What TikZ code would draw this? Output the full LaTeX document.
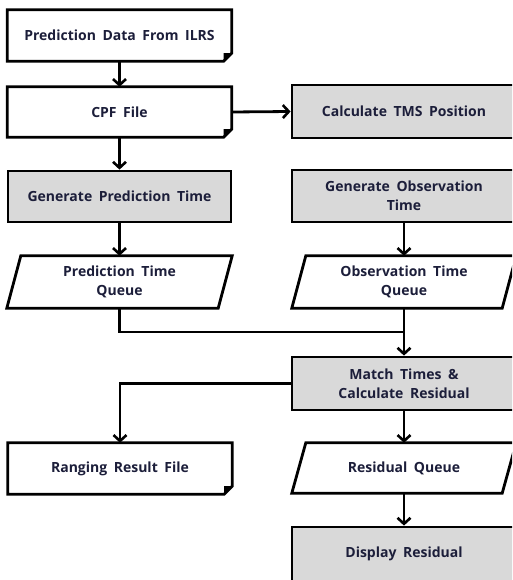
\documentclass[tikz,border=0pt]{standalone}
\usepackage{fontspec}
\setmainfont{Open Sans}[WordSpace=1.8]
\usetikzlibrary{arrows.meta}
\definecolor{boxgray}{RGB}{217,217,217}
\definecolor{txt}{RGB}{28,30,58}
\tikzset{
  base/.style={rectangle, inner sep=0pt, align=center, font=\bfseries\fontsize{14}{19}\selectfont, text=txt},
  procbox/.style={base, draw, fill=boxgray, line width=2.8pt, minimum width=224pt, minimum height=52pt},
  plainspot/.style={base, minimum width=224pt, minimum height=51pt},
  flow/.style={line width=2.8pt, -{Straight Barb[length=6pt,width=13pt,line width=2.6pt]}},
  link/.style={line width=2.8pt},
  shapeline/.style={line width=2.8pt, line join=miter}
}
% document box: rectangle with folded lower right corner
\newcommand\docshape[1]{%
  \draw[shapeline, fill=white] (#1.north west) -- (#1.north east) -- ([yshift=8pt]#1.south east)
     -- ([xshift=-8pt]#1.south east) -- (#1.south west) -- cycle;
  \fill ([yshift=8pt]#1.south east) -- ([xshift=-8pt]#1.south east) -- ([xshift=-8pt,yshift=8pt]#1.south east) -- cycle;}
% data (queue) shape: slanted parallelogram
\newcommand\datashape[1]{%
  \draw[shapeline, fill=white] ([xshift=14pt]#1.north west) -- (#1.north east)
     -- ([xshift=-14pt]#1.south east) -- (#1.south west) -- cycle;}
\begin{document}
\begin{tikzpicture}[x=1pt, y=-1pt]
\useasboundingbox (0,0) rectangle (512,580);
\clip (0,0) rectangle (512,580);

% left column
\node[plainspot] (ilrs) at (119.5,35.5) {};
\docshape{ilrs}
\node[base] at (ilrs) {Prediction Data From ILRS};

\node[plainspot, minimum height=50pt] (cpf) at (119.5,112) {};
\docshape{cpf}
\node[base] at (cpf) {CPF File};

\node[procbox, minimum width=223pt, minimum height=51pt] (gpt) at (119.5,196.5) {Generate Prediction Time};

\node[plainspot, minimum width=225pt, minimum height=52pt] (ptq) at (119.5,282) {};
\datashape{ptq}
\node[base] at (ptq) {Prediction Time\\Queue};

\node[plainspot] (rrf) at (120,468.5) {};
\docshape{rrf}
\node[base] at (rrf) {Ranging Result File};

% right column
\node[procbox, minimum height=53pt] (tms) at (404,111.5) {Calculate TMS Position};
\node[procbox] (got) at (404,196) {Generate Observation\\Time};

\node[plainspot, minimum width=224pt, minimum height=52pt] (otq) at (404,282) {};
\datashape{otq}
\node[base] at (otq) {Observation Time\\Queue};

\node[procbox, minimum height=53pt] (match) at (404,383.5) {Match Times \&\\Calculate Residual};

\node[plainspot, minimum width=224pt, minimum height=50pt] (rq) at (404,468) {};
\datashape{rq}
\node[base] at (rq) {Residual Queue};

\node[procbox, minimum height=54pt] (disp) at (404,554) {Display Residual};

% connectors
\coordinate (join) at (404,332);
\draw[flow] (ilrs.south) -- (cpf.north);
\draw[flow] (cpf.east) -- (tms.west);
\draw[flow] (cpf.south) -- (gpt.north);
\draw[flow] (gpt.south) -- (ptq.north);
\draw[flow] (got.south) -- (otq.north);
\draw[link] (ptq.south) |- (join);
\draw[flow] (otq.south) -- (match.north);
\draw[flow] (match.west) -| (rrf.north);
\draw[flow] (match.south) -- (rq.north);
\draw[flow] (rq.south) -- (disp.north);
\end{tikzpicture}
\end{document}
